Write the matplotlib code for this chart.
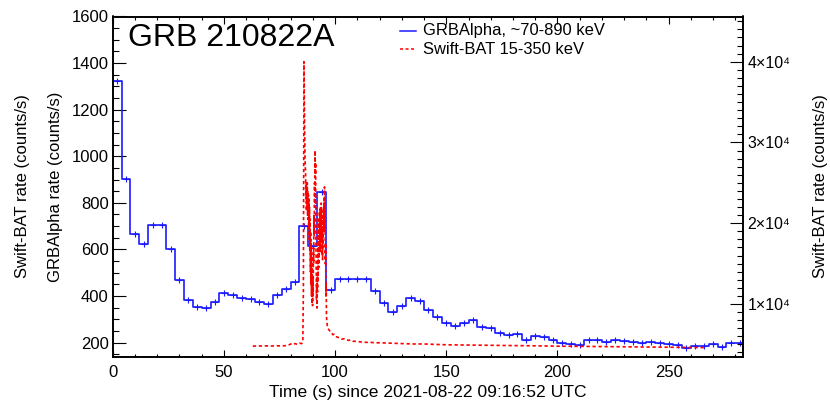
import numpy as np
import matplotlib
matplotlib.use("Agg")
import matplotlib.pyplot as plt
from matplotlib.ticker import MultipleLocator, FuncFormatter
from matplotlib.lines import Line2D

plt.rcParams['font.family'] = ['Liberation Sans', 'DejaVu Sans']

# ---------------- data ----------------
# GRBAlpha light curve: 4 s bins starting at t = 0 s
bin_width = 4.0
grb_rates = [1325, 902, 668, 622, 703, 706, 602, 467, 381, 353,
             350, 373, 412, 402, 393, 386, 372, 366, 404, 428,
             461, 702, 616, 847, 427, 474, 474, 474, 474, 422,
             370, 329, 355, 392, 377, 341, 308, 284, 272, 286,
             295, 268, 262, 243, 233, 238, 212, 226, 223, 212,
             200, 193, 190, 209, 209, 202, 212, 207, 202, 197,
             203, 197, 195, 189, 176, 183, 183, 195, 180, 197,
             197]

# Swift-BAT light curve (counts/s)
bat_time = [63, 64, 65, 66, 67, 68, 69, 70, 71, 72, 73, 74, 75, 76, 77, 78,
            79, 80, 81, 82, 83, 84, 85, 85.5,
            85.75, 86.0, 86.25, 86.5,
            86.75, 86.875, 87.0, 87.125, 87.25, 87.375, 87.5, 87.625, 87.75, 87.875,
            88.0, 88.125, 88.25, 88.375, 88.5, 88.625, 88.75, 88.875,
            89.0, 89.125, 89.25, 89.375, 89.5, 89.625, 89.75, 89.875,
            90.0, 90.125, 90.25, 90.375, 90.5, 90.625, 90.75, 90.875,
            91.0, 91.125, 91.25, 91.375, 91.5, 91.625, 91.75, 91.875,
            92.0, 92.125, 92.25, 92.375, 92.5, 92.625, 92.75, 92.875,
            93.0, 93.125, 93.25, 93.375, 93.5, 93.625, 93.75, 93.875,
            94.0, 94.125, 94.25, 94.375, 94.5, 94.625, 94.75, 94.875,
            95.0, 95.125, 95.25, 95.375, 95.5, 95.625, 95.75, 95.875,
            96.0, 96.125, 96.25, 96.5, 96.75, 97.0,
            97.5, 98, 98.5, 99, 99.5, 100, 101, 102, 103, 104, 105, 106, 107,
            108, 110, 112, 114, 116, 118, 120, 125, 130, 135, 140, 145, 150,
            160, 170, 180, 190, 200, 210, 220, 230, 240, 250, 260, 267]
bat_rate = [4780, 4800, 4770, 4810, 4790, 4780, 4820, 4800, 4790, 4810, 4800,
            4830, 4810, 4840, 4820, 4860, 4900, 5050, 4950, 5100, 5000, 5150,
            5100, 5300,
            12000, 40000, 33000, 28000,
            26000, 23000, 25000, 21500, 24500, 22000, 25000, 21000, 24000, 20500,
            23500, 19500, 23000, 18000, 22000, 16500, 20500, 14000,
            19000, 12500, 17500, 11000, 16000, 10000, 14500, 9800,
            13000, 11000, 17000, 15000, 21000, 18500, 25000, 22000,
            29000, 26000, 27500, 18000, 15000, 10500, 12500, 9500,
            13500, 11500, 17000, 13000, 19000, 14500, 20500, 16000,
            21500, 17000, 22000, 16500, 21000, 18000, 22500, 17500,
            21500, 16000, 20500, 15500, 19500, 17000, 22000, 19000,
            23000, 20500, 24500, 19000, 22500, 15000, 17500, 11000,
            12500, 8500, 8000, 7300, 7000, 6900,
            6700, 6500, 6400, 6200, 6250, 6000, 5900, 5800, 5650, 5700, 5550,
            5500, 5550, 5400, 5350, 5300, 5250, 5250, 5200, 5200, 5150, 5100,
            5050, 5050, 5000, 4950, 4920, 4880, 4850, 4820, 4780, 4760, 4730,
            4700, 4680, 4650, 4620, 4600]

title_text = "GRB 210822A"
label_grb = "GRBAlpha, ~70-890 keV"
label_bat = "Swift-BAT 15-350 keV"
xlabel = "Time (s) since 2021-08-22 09:16:52 UTC"
ylabel_grb = "GRBAlpha rate (counts/s)"
ylabel_bat = "Swift-BAT rate (counts/s)"

# ---------------- figure ----------------
W, H = 830, 403
fig = plt.figure(figsize=(W / 100, H / 100), dpi=100)
x0, x1, y0, y1 = 112.7, 742.7, 16.5, 356.5
ax = fig.add_axes([x0 / W, 1 - y1 / H, (x1 - x0) / W, (y1 - y0) / H])
ax2 = ax.twinx()

blue = '#1a1aff'
red = '#ff0000'

rates = np.array(grb_rates, dtype=float)
edges = np.arange(len(rates) + 1) * bin_width
centers = edges[:-1] + bin_width / 2
ax.step(edges, np.append(rates, rates[-1]), where='post', color=blue, lw=1.2, zorder=3)
ax.plot(centers, rates, ls='none', marker='+', ms=5, mew=0.8, color=blue, zorder=3)

ax2.plot(bat_time, bat_rate, color=red, lw=1.2, ls=(0, (2.0, 1.6)), zorder=2)

ax.set_xlim(0, 283.3)
ax.set_ylim(140, 1600)
ax2.set_ylim(3500, 45600)

fs = 12
ax.xaxis.set_major_locator(MultipleLocator(50))
ax.xaxis.set_minor_locator(MultipleLocator(10))
ax.yaxis.set_major_locator(MultipleLocator(200))
ax.yaxis.set_minor_locator(MultipleLocator(50))
ax2.yaxis.set_major_locator(MultipleLocator(10000))
ax2.yaxis.set_minor_locator(MultipleLocator(1000))
ax2.yaxis.set_major_formatter(FuncFormatter(lambda v, p: "%d\u00d710\u2074" % round(v / 1e4)))

ax.tick_params(axis='x', which='both', direction='in', top=True, bottom=True,
               labelsize=fs, pad=6.0, width=0.8)
ax.tick_params(axis='x', which='major', length=4.9)
ax.tick_params(axis='x', which='minor', length=2.5)
ax.tick_params(axis='y', which='both', direction='in', left=True, right=False,
               labelsize=fs, pad=3, width=0.8)
ax.tick_params(axis='y', which='major', length=9.1)
ax.tick_params(axis='y', which='minor', length=4.5)
ax2.tick_params(axis='y', which='both', direction='in', right=True, left=False,
                labelsize=11.5, pad=3.5, width=0.8)
ax2.tick_params(axis='y', which='major', length=9.1)
ax2.tick_params(axis='y', which='minor', length=4.5)

for a in (ax, ax2):
    for s in a.spines.values():
        s.set_linewidth(1.2)

# title inside the plot
ax.text(0.024, 0.937, title_text, transform=ax.transAxes, fontsize=23,
        ha='left', va='center')

# legend drawn manually
lx0, lx1, tx = 0.456, 0.481, 0.492
for yy, col, ls, lab in [(0.958, blue, '-', label_grb), (0.9035, red, (0, (2.0, 1.6)), label_bat)]:
    ax.add_line(Line2D([lx0, lx1], [yy, yy], transform=ax.transAxes, color=col,
                       lw=1.1, ls=ls))
    ax.text(tx, yy, lab, transform=ax.transAxes, fontsize=11.9, ha='left', va='center')

# axis labels
fig.text((x0 + x1) / 2 / W, 1 - 392 / H, xlabel, ha='center', va='center', fontsize=12.6)
yc = 1 - (y0 + y1) / 2 / H
fig.text(23 / W, yc, ylabel_bat, rotation=90, ha='center', va='center', fontsize=12)
fig.text(55 / W, yc, ylabel_grb, rotation=90, ha='center', va='center', fontsize=12)
fig.text(820 / W, yc, ylabel_bat, rotation=90, ha='center', va='center', fontsize=12)

fig.savefig("out.png", dpi=100)
